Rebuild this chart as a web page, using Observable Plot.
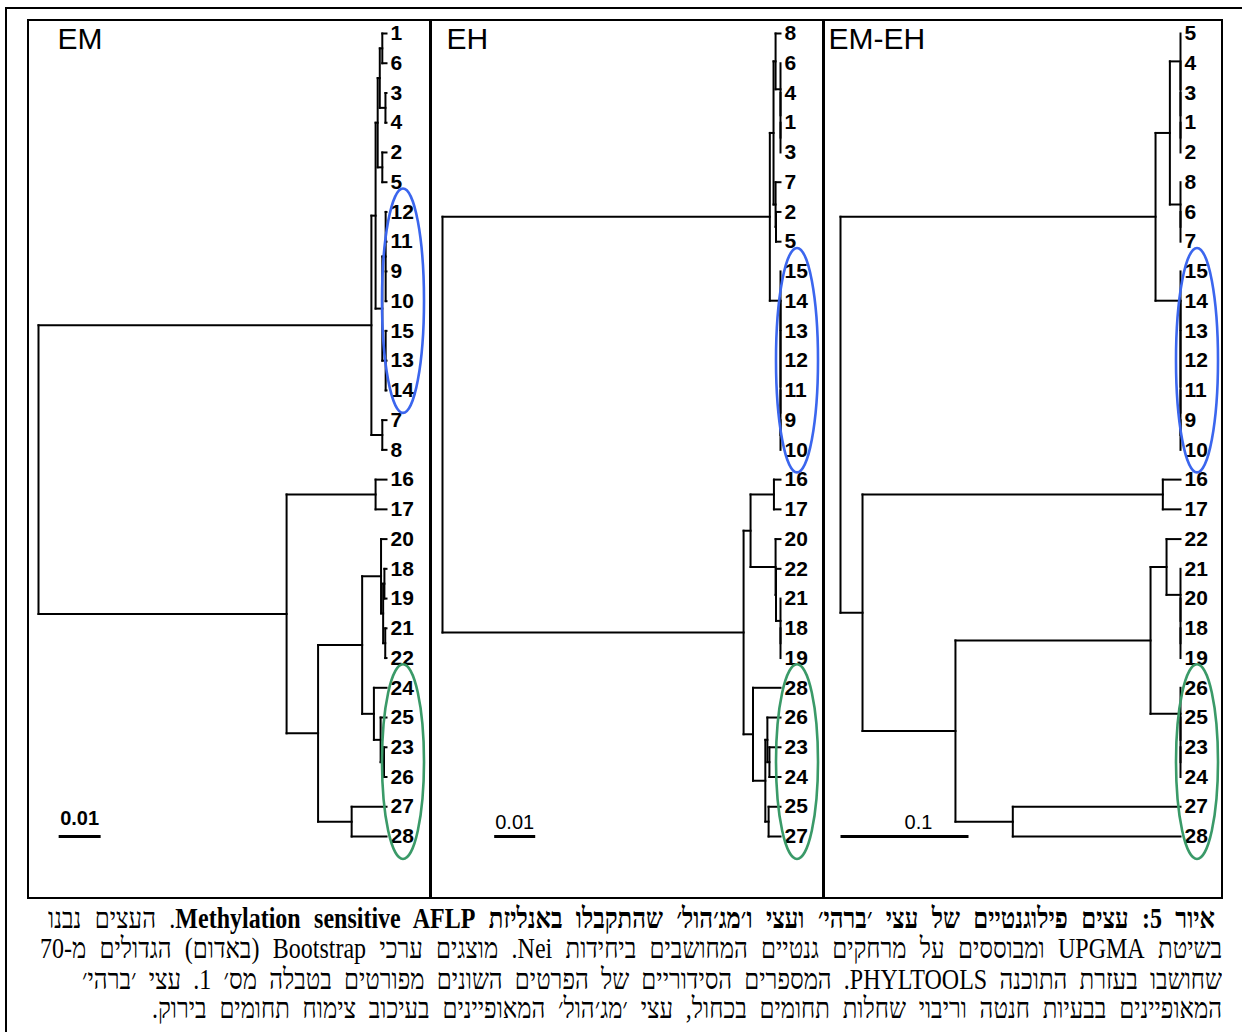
<!DOCTYPE html>
<html><head><meta charset="utf-8">
<script src="https://cdn.jsdelivr.net/npm/d3@7"></script>
<script src="https://cdn.jsdelivr.net/npm/@observablehq/plot@0.6"></script>
<style>
body{margin:0;background:#fff;width:1242px;height:1032px;position:relative;overflow:hidden;font-family:"Liberation Sans",Arial,sans-serif;}
.outer{position:absolute;left:5px;top:7px;width:1240px;height:1030px;border-left:2px solid #000;border-top:2px solid #000;}
.frame{position:absolute;left:27px;top:19px;width:1196px;height:880px;border:2px solid #000;box-sizing:border-box;z-index:5}
.panel{position:absolute;top:19px}
.sep{position:absolute;top:19px;height:880px;width:3px;background:#000;z-index:5}
.cap{position:absolute;direction:rtl;white-space:nowrap;font-family:"Liberation Serif","Times New Roman",serif;font-size:24px;line-height:30px;color:#000;transform:scaleY(1.2);transform-origin:50% 50%}
</style></head><body>
<div class="outer"></div>
<div id="p1" class="panel" style="left:27px"></div>
<div id="p2" class="panel" style="left:430px"></div>
<div id="p3" class="panel" style="left:823px"></div>
<div class="frame"></div>
<div class="sep" style="left:429px"></div>
<div class="sep" style="left:822px"></div>
<div class="cap" data-l="48" style="right:27px;top:903px"><b>איור 5: עצים פילוגנטיים של עצי ׳ברהי׳ ועצי ו׳מג׳הול׳ שהתקבלו באנליזת Methylation sensitive AFLP</b>. העצים נבנו</div>
<div class="cap" data-l="40" style="right:20px;top:933px">בשיטת UPGMA ומבוססים על מרחקים גנטיים המחושבים ביחידות Nei. מוצגים ערכי Bootstrap (באדום) הגדולים מ-70</div>
<div class="cap" data-l="82" style="right:20px;top:964px">שחושבו בעזרת התוכנה PHYLTOOLS. המספרים הסידוריים של הפרטים השונים מפורטים בטבלה מס׳ 1. עצי ׳ברהי׳</div>
<div class="cap" data-l="152" style="right:20px;top:993px">המאופיינים בבעיות חנטה וריבוי שחלות תחומים בכחול, עצי ׳מג׳הול׳ המאופיינים בעיכוב צימוח תחומים בירוק.</div>
<script>
// ---------- DATA ----------
const titles = ["EM", "EH", "EM-EH"];

const emLeaves = [1,6,3,4,2,5,12,11,9,10,15,13,14,7,8,16,17,20,18,19,21,22,24,25,23,26,27,28];
const emMerges = [
 ["a1",[1,6],0.0010],["a2",[3,4],0.00025],["a3",["a1","a2"],0.0016],["a4",[2,5],0.0010],["a5",["a3","a4"],0.0021],
 ["b1",[12,11,9,10],0.0002],["b2",[15,13,14],0.0002],["b3",["b1","b2"],0.0010],
 ["a6",["a5","b3"],0.0026],["a7",[7,8],0.0010],["a8",["a6","a7"],0.0036],
 ["c1",[16,17],0.0026],
 ["s1",[18,19],0.0005],["s3",[21,22],0.0003],["s2",["s1","s3"],0.0008],["s4",[20,"s2"],0.0013],
 ["t0",[23,26],0.0006],["t1",[25,"t0"],0.0014],["t2",[24,"t1"],0.0030],
 ["r3",["s4","t2"],0.0058],["u",[27,28],0.0083],["r2",["r3","u"],0.0163],["r1",["c1","r2"],0.0238],
 ["root",["a8","r1"],0.0829]
];

const ehLeaves = [8,6,4,1,3,7,2,5,15,14,13,12,11,9,10,16,17,20,22,21,18,19,28,26,23,24,25,27];
const ehMerges = [
 ["v0",[1,3],0],["v0b",[4,"v0"],0],["v1",[6,"v0b"],0],["v2",[8,"v1"],0.0012],
 ["v3a",[2,5],0.0011],["v3",[7,"v3a"],0.0012],["v4",["v2","v3"],0.0017],
 ["w0",[9,10],0],["w1",[11,"w0"],0],["w2",[12,"w1"],0],["w3",[13,"w2"],0],["w4",[14,"w3"],0],["w5",[15,"w4"],0],
 ["v5",["v4","w5"],0.0026],
 ["x1",[16,17],0.0016],
 ["x2a",[18,19],0],["x2b",[21,"x2a"],0],["x2c",[22,"x2b"],0.0011],["x2",[20,"x2c"],0.0012],
 ["x3",["x1","x2"],0.0073],
 ["y1",[23,24],0.0027],["y2",[26,"y1"],0.0032],["y3",[25,27],0.0029],["y4",["y2","y3"],0.0037],["y5",[28,"y4"],0.0067],
 ["z",["x3","y5"],0.0090],
 ["root",["v5","z"],0.0824]
];

const emehLeaves = [5,4,3,1,2,8,6,7,15,14,13,12,11,9,10,16,17,22,21,20,18,19,26,25,23,24,27,28];
const emehMerges = [
 ["p0",[1,2],0],["p0b",[3,"p0"],0],["p0c",[4,"p0b"],0],["p1",[5,"p0c"],0],
 ["p2a",[6,7],0],["p2",[8,"p2a"],0],["p3",["p1","p2"],0.0083],
 ["w0",[9,10],0],["w1",[11,"w0"],0],["w2",[12,"w1"],0],["w3",[13,"w2"],0],["w4",[14,"w3"],0],["w5",[15,"w4"],0],
 ["p4",["p3","w5"],0.0195],
 ["q1",[16,17],0.0138],
 ["q2a",[18,19],0],["q2b",[20,"q2a"],0],["q2",[21,"q2b"],0],["q3",[22,"q2"],0.0109],
 ["q4a",[23,24],0],["q4b",[25,"q4a"],0],["q4",[26,"q4b"],0],
 ["q5",["q3","q4"],0.0234],["q6",[27,28],0.1310],["q7",["q5","q6"],0.1758],["q8",["q1","q7"],0.2484],
 ["root",["p4","q8"],0.2656]
];

// clusters circled: [first leaf, last leaf]
const blueGroups  = [[12,14],[15,10],[15,10]];
const greenGroups = [[24,28],[28,27],[26,28]];
// scale bars: [length, left end (distance units)]
const scaleBars = [[0.01,0.0781],[0.01,0.0698],[0.1,0.2656]];
const scaleLabels = ["0.01","0.01","0.1"];

// ---------- LAYOUT ----------
function layout(leaves, merges){
  const pos = new Map();
  leaves.forEach((l,i)=>pos.set(l,{y:i,h:0}));
  const segs=[];
  let rootH=0;
  for (const [id,kids,h] of merges){
    const ys = kids.map(k=>pos.get(k).y);
    const y0 = Math.min(...ys), y1 = Math.max(...ys);
    pos.set(id,{y:(ys[0]+ys[ys.length-1])/2,h});
    segs.push({x1:h,x2:h,y1:y0,y2:y1});
    for (const k of kids){const p=pos.get(k); if (p.h!==h) segs.push({x1:h,x2:p.h,y1:p.y,y2:p.y});}
    rootH = Math.max(rootH,h);
  }
  return {segs, rootH, leafData: leaves.map((l,i)=>({label:String(l), row:i}))};
}

function ellipseMark(leaves, groups, colors){
  return (index, scales) => {
    const g = d3.create("svg:g");
    groups.forEach((gr,i)=>{
      const a = scales.y(leaves.indexOf(gr[0])), b = scales.y(leaves.indexOf(gr[1]));
      g.append("ellipse").attr("cx", scales.x(0)+17).attr("cy",(a+b)/2)
        .attr("rx",21).attr("ry",(b-a)/2+23)
        .attr("fill","none").attr("stroke",colors[i]).attr("stroke-width",2.6);
    });
    return g.node();
  };
}

const panels = [
  {el:"#p1", leaves:emLeaves, merges:emMerges, width:403, xr:[11,359], tdx:30, bi:0, bold:true, ldy:-18, ldx:0},
  {el:"#p2", leaves:ehLeaves, merges:ehMerges, width:393, xr:[12,350], tdx:16, bi:1, bold:false, ldy:-14, ldx:0},
  {el:"#p3", leaves:emehLeaves, merges:emehMerges, width:399, xr:[17,357], tdx:5, bi:2, bold:false, ldy:-14, ldx:14},
];

panels.forEach((p,pi)=>{
  const L = layout(p.leaves, p.merges);
  const [bl, bx] = scaleBars[p.bi];
  const chart = Plot.plot({
    width: p.width, height: 879, margin: 0,
    style:{background:"none", overflow:"visible"},
    x:{domain:[L.rootH,0], range:p.xr, axis:null},
    y:{domain:[0,27], range:[14,817], axis:null},
    marks:[
      Plot.link(L.segs,{x1:"x1",x2:"x2",y1:"y1",y2:"y2",stroke:"#000",strokeWidth:2,strokeLinecap:"square"}),
      Plot.text(L.leafData,{x:0,y:"row",text:"label",dx:4,textAnchor:"start",fontSize:21,fontWeight:"bold",fill:"#000",fontFamily:"Liberation Sans, Arial, sans-serif"}),
      Plot.text([titles[pi]],{frameAnchor:"top-left",dx:p.tdx,dy:8,fontSize:30,lineAnchor:"top",textAnchor:"start",fill:"#000",fontFamily:"Liberation Sans, Arial, sans-serif"}),
      Plot.link([{a:bx,b:bx-bl,r:27}],{x1:"a",x2:"b",y1:"r",y2:"r",stroke:"#000",strokeWidth:3}),
      Plot.text([{m:bx-bl/2,r:27,t:scaleLabels[p.bi]}],{x:"m",y:"r",text:"t",dy:p.ldy,dx:p.ldx,fontSize:20,fontWeight:p.bold?"bold":"normal",fill:"#000",fontFamily:"Liberation Sans, Arial, sans-serif"}),
      ellipseMark(p.leaves,[blueGroups[pi],greenGroups[pi]],["#3b66ee","#3a9a68"])
    ]
  });
  document.querySelector(p.el).appendChild(chart);
});

// caption justification
document.querySelectorAll(".cap").forEach(el=>{
  const right = 1242 - parseFloat(el.style.right);
  const target = right - (+el.dataset.l);
  const w = el.getBoundingClientRect().width;
  const n = (el.textContent.match(/ /g)||[]).length;
  if (n>0) el.style.wordSpacing = ((target-w)/n)+"px";
});
</script>
</body></html>
